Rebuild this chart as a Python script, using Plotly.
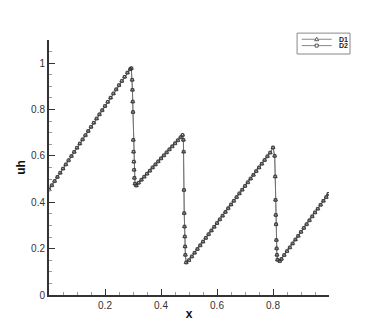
import plotly.graph_objects as go

x_vals = [0.00, 0.01, 0.02, 0.03, 0.04, 0.05, 0.06, 0.07, 0.08, 0.09,
          0.10, 0.11, 0.12, 0.13, 0.14, 0.15, 0.16, 0.17, 0.18, 0.19,
          0.20, 0.21, 0.22, 0.23, 0.24, 0.25, 0.26, 0.27, 0.28, 0.29,
          0.294, 0.297, 0.298, 0.299, 0.300, 0.301, 0.302, 0.303, 0.304, 0.305, 0.307, 0.312,
          0.32, 0.33, 0.34, 0.35, 0.36, 0.37, 0.38, 0.39, 0.40, 0.41,
          0.42, 0.43, 0.44, 0.45, 0.46, 0.47, 0.477,
          0.480, 0.481, 0.482, 0.483, 0.484, 0.485, 0.486, 0.487, 0.490,
          0.50, 0.51, 0.52, 0.53, 0.54, 0.55, 0.56, 0.57, 0.58, 0.59,
          0.60, 0.61, 0.62, 0.63, 0.64, 0.65, 0.66, 0.67, 0.68, 0.69,
          0.70, 0.71, 0.72, 0.73, 0.74, 0.75, 0.76, 0.77, 0.78, 0.79, 0.80,
          0.806, 0.808, 0.809, 0.810, 0.811, 0.812, 0.813, 0.814, 0.816, 0.824,
          0.83, 0.84, 0.85, 0.86, 0.87, 0.88, 0.89, 0.90, 0.91, 0.92,
          0.93, 0.94, 0.95, 0.96, 0.97, 0.98, 0.99, 0.998]

uh_d1 = [0.455, 0.473, 0.491, 0.509, 0.527, 0.545, 0.563, 0.581, 0.599, 0.617,
         0.635, 0.653, 0.671, 0.689, 0.707, 0.725, 0.743, 0.761, 0.779, 0.797,
         0.815, 0.833, 0.851, 0.869, 0.887, 0.905, 0.923, 0.941, 0.959, 0.974,
         0.978, 0.928, 0.885, 0.834, 0.789, 0.669, 0.618, 0.575, 0.540, 0.505, 0.480, 0.472,
         0.484, 0.497, 0.510, 0.523, 0.536, 0.550, 0.563, 0.576, 0.589, 0.602,
         0.615, 0.628, 0.641, 0.654, 0.667, 0.680, 0.690,
         0.669, 0.618, 0.453, 0.353, 0.295, 0.252, 0.209, 0.173, 0.140,
         0.150, 0.166, 0.182, 0.198, 0.214, 0.230, 0.246, 0.262, 0.278, 0.294,
         0.310, 0.326, 0.342, 0.358, 0.374, 0.390, 0.406, 0.422, 0.438, 0.454,
         0.470, 0.486, 0.502, 0.518, 0.534, 0.550, 0.566, 0.582, 0.598, 0.614, 0.636,
         0.600, 0.511, 0.410, 0.345, 0.305, 0.237, 0.201, 0.173, 0.152, 0.146,
         0.155, 0.172, 0.189, 0.205, 0.222, 0.239, 0.255, 0.272, 0.289, 0.305,
         0.322, 0.339, 0.356, 0.372, 0.389, 0.406, 0.422, 0.436]

uh_d2 = list(uh_d1)

series_names = ["D1", "D2"]

x_ticks = [0.2, 0.4, 0.6, 0.8]
x_minor = [0.05, 0.1, 0.15, 0.25, 0.3, 0.35, 0.45, 0.5, 0.55, 0.65, 0.7, 0.75, 0.85, 0.9, 0.95]
y_ticks = [0, 0.2, 0.4, 0.6, 0.8, 1.0]
y_tick_text = ["0", "0.2", "0.4", "0.6", "0.8", "1"]
y_minor = [0.05, 0.1, 0.15, 0.25, 0.3, 0.35, 0.45, 0.5, 0.55, 0.65, 0.7, 0.75, 0.85, 0.9, 0.95, 1.05]

FONT = "Liberation Sans, Arial, sans-serif"
LINE_COLOR = "#6a6a6a"
MARK_COLOR = "#333333"

fig = go.Figure()
fig.add_trace(go.Scatter(
    x=x_vals, y=uh_d1, name=series_names[0], mode="lines+markers",
    line=dict(color=LINE_COLOR, width=0.8),
    marker=dict(symbol="triangle-up-open", size=3.5, color=MARK_COLOR, line=dict(width=0.8)),
    showlegend=False,
))
fig.add_trace(go.Scatter(
    x=x_vals, y=uh_d2, name=series_names[1], mode="lines+markers",
    line=dict(color=LINE_COLOR, width=0.8),
    marker=dict(symbol="square-open", size=2.8, color=MARK_COLOR, line=dict(width=0.8)),
    showlegend=False,
))

# compact legend box (Tecplot style)
shapes = [dict(type="rect", xref="paper", yref="paper", x0=0.886, x1=1.075, y0=0.945, y1=1.027,
               line=dict(color="#888888", width=1), fillcolor="white", layer="above")]
annotations = []
legend_rows = [1.003, 0.978]
for i, (name, yy) in enumerate(zip(series_names, legend_rows)):
    shapes.append(dict(type="line", xref="paper", yref="paper", x0=0.9025, x1=1.0096, y0=yy, y1=yy,
                       line=dict(color=LINE_COLOR, width=0.8), layer="above"))
    if i == 0:
        shapes.append(dict(type="path", xref="paper", yref="paper", xsizemode="pixel", ysizemode="pixel",
                           xanchor=0.956, yanchor=yy, path="M -2,-1.5 L 2,-1.5 L 0,2 Z",
                           line=dict(color=MARK_COLOR, width=0.8), fillcolor="white", layer="above"))
    else:
        shapes.append(dict(type="rect", xref="paper", yref="paper", xsizemode="pixel", ysizemode="pixel",
                           xanchor=0.956, yanchor=yy, x0=-1.5, x1=1.5, y0=-1.5, y1=1.5,
                           line=dict(color=MARK_COLOR, width=0.8), fillcolor="white", layer="above"))
    annotations.append(dict(xref="paper", yref="paper", x=1.029, y=yy, xanchor="left", yanchor="middle",
                            text="<b>%s</b>" % name, showarrow=False,
                            font=dict(family=FONT, size=7, color="#222222")))

axis_font = dict(family=FONT, size=10, color="#333333")

# page body has an 8px default margin, so margins are offset to compensate
fig.update_layout(
    width=374, height=332,
    margin=dict(l=41, r=53, t=32, b=45),
    paper_bgcolor="white", plot_bgcolor="white",
    shapes=shapes, annotations=annotations,
    xaxis=dict(
        range=[0, 1], showgrid=False, zeroline=False, automargin=False,
        showline=True, linecolor="#333333", linewidth=2,
        tickmode="array", tickvals=x_ticks, ticktext=[str(v) for v in x_ticks],
        ticks="inside", ticklen=6, tickwidth=1, tickcolor="#333333",
        minor=dict(tickmode="array", tickvals=x_minor, ticks="inside", ticklen=3, tickcolor="#999999", tickwidth=1),
        tickfont=axis_font,
        title=dict(text="<b>x</b>", font=dict(family=FONT, size=12, color="#111111"), standoff=0),
    ),
    yaxis=dict(
        range=[0, 1.1], showgrid=False, zeroline=False, automargin=False,
        showline=True, linecolor="#333333", linewidth=2,
        tickmode="array", tickvals=y_ticks, ticktext=y_tick_text,
        ticks="inside", ticklen=6, tickwidth=1, tickcolor="#333333",
        minor=dict(tickmode="array", tickvals=y_minor, ticks="inside", ticklen=3, tickcolor="#999999", tickwidth=1),
        tickfont=axis_font,
        title=dict(text="<b>uh</b>", font=dict(family=FONT, size=12, color="#111111"), standoff=3),
    ),
)

fig.write_html("out.html")
